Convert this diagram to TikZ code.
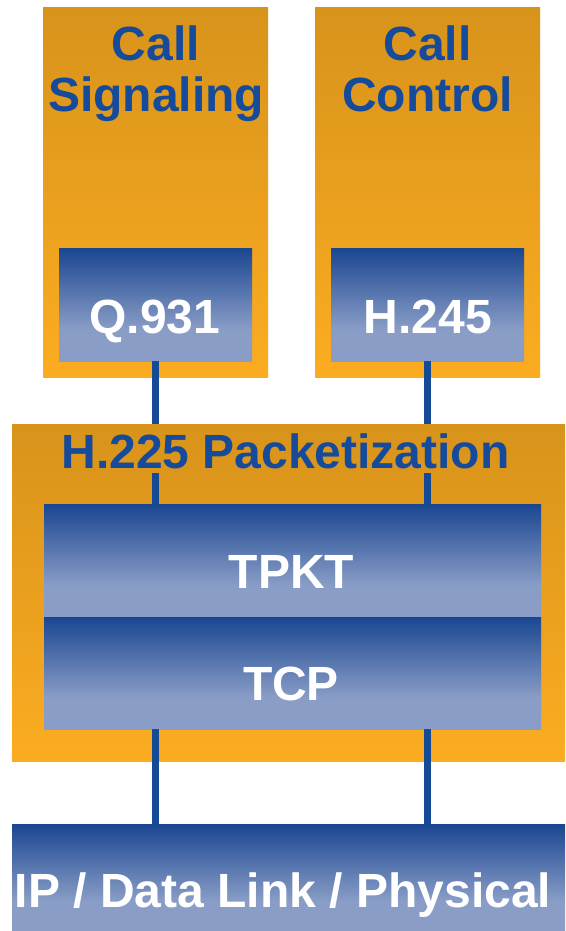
\documentclass[tikz,border=0pt]{standalone}
\usepackage{fontspec}
\setmainfont{Liberation Sans}
\definecolor{orTop}{HTML}{D8931B}
\definecolor{orBot}{HTML}{FBAC21}
\definecolor{blDark}{HTML}{1A4691}
\definecolor{blLight}{HTML}{899DC6}
\definecolor{txtBlue}{HTML}{164B9B}
\definecolor{lineBlue}{HTML}{154A97}
\pgfdeclareverticalshading{bluebox}{100bp}{color(0bp)=(blLight); color(39bp)=(blLight); color(75bp)=(blDark); color(100bp)=(blDark)}
\begin{document}
\begin{tikzpicture}[x=1pt,y=-1pt,
  orbox/.style={top color=orTop,bottom color=orBot,draw=none,inner sep=0pt,outer sep=0pt,anchor=north west},
  blbox/.style={shading=bluebox,draw=none,inner sep=0pt,outer sep=0pt,anchor=north west},
  wt/.style={text=white,font=\fontsize{48}{51}\selectfont\bfseries,inner sep=0pt,anchor=base},
  bt/.style={text=txtBlue,font=\fontsize{48}{51}\selectfont\bfseries,inner sep=0pt},
  conn/.style={draw=lineBlue,line width=7pt}]
\useasboundingbox (0,0) rectangle (565,931);
% boxes
\node[orbox,minimum width=225pt,minimum height=369pt] (cs) at (43,8) {};
\node[orbox,minimum width=225pt,minimum height=369pt] (cc) at (315,8) {};
\node[blbox,minimum width=193pt,minimum height=113pt] (q931) at (59,248) {};
\node[blbox,minimum width=193pt,minimum height=113pt] (h245) at (331,248) {};
\node[orbox,minimum width=553pt,minimum height=337pt] (h225) at (12,424) {};
\node[blbox,minimum width=497pt,minimum height=113pt] (tpkt) at (44,504) {};
\node[blbox,minimum width=497pt,minimum height=112pt] (tcp) at (44,617) {};
\node[blbox,minimum width=553pt,minimum height=107pt] (ip) at (12,824) {};
% connectors
\coordinate (gapL) at (155.5,473);
\coordinate (gapR) at (427.5,473);
\draw[conn] (q931.south) -- (q931.south |- h225.north);
\draw[conn] (h245.south) -- (h245.south |- h225.north);
\draw[conn] (gapL) -- (gapL |- tpkt.north);
\draw[conn] (gapR) -- (gapR |- tpkt.north);
\draw[conn] (gapL |- tcp.south) -- (gapL |- ip.north);
\draw[conn] (gapR |- tcp.south) -- (gapR |- ip.north);
% texts
\node[bt,anchor=north,align=center] (csT) at (156,26) {Call\\Signaling};
\node[bt,anchor=north,align=center] (ccT) at (427.5,26) {Call\\Control};
\node[bt,anchor=base] (ttl) at (285.5,468) {H.225 Packetization};
\node[wt] (q931T) at (155,333) {Q.931};
\node[wt] (h245T) at (428,333) {H.245};
\node[wt] (tpktT) at (291.5,588) {TPKT};
\node[wt] (tcpT) at (291,700) {TCP};
\node[wt] (ipT) at (283,907) {IP / Data Link / Physical};
\end{tikzpicture}
\end{document}
